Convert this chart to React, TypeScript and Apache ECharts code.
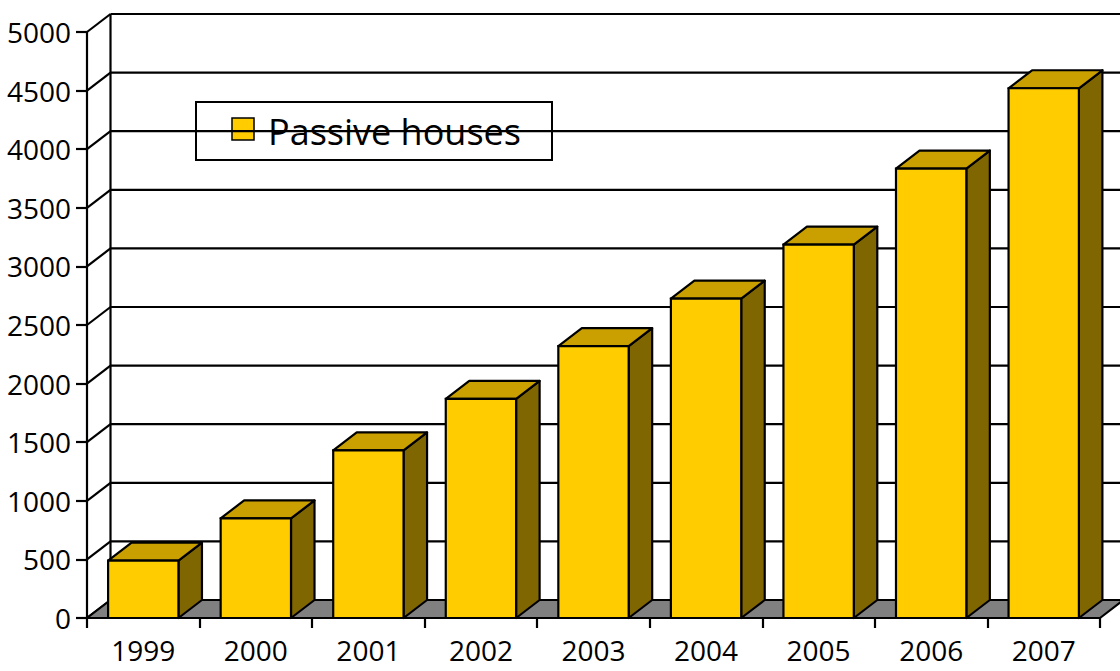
import React, { useEffect, useRef } from "react";
import * as echarts from "echarts";

const years = ["1999", "2000", "2001", "2002", "2003", "2004", "2005", "2006", "2007"];
const passiveHouses = [490, 850, 1430, 1870, 2320, 2725, 3185, 3835, 4520];
const yTicks = [0, 500, 1000, 1500, 2000, 2500, 3000, 3500, 4000, 4500, 5000];
const seriesName = "Passive houses";

const DX = 23.5;
const DY = -18;
const FONT = "Open Sans";
const FRONT = "#FFCC00";
const TOP = "#C9A000";
const SIDE = "#806600";
const FLOOR = "#808080";

export default function App() {
  const ref = useRef<HTMLDivElement>(null);

  useEffect(() => {
    document.body.style.margin = "0";
    const chart = echarts.init(ref.current!, null, { renderer: "svg" });

    const stroke = { stroke: "#000", lineWidth: 2.2 };

    chart.setOption({
      animation: false,
      backgroundColor: "#fff",
      grid: { left: 87, right: 20, top: 32, bottom: 53, containLabel: false, outerBoundsMode: "none" },
      xAxis: {
        type: "category",
        data: years,
        boundaryGap: true,
        axisLine: { show: true, lineStyle: { color: "#000", width: 2.2 } },
        axisTick: { show: true, alignWithLabel: false, length: 10, lineStyle: { color: "#000", width: 2.2 } },
        axisLabel: { color: "#000", fontSize: 28, lineHeight: 28, fontFamily: FONT, margin: 18 },
        splitLine: { show: false },
      },
      yAxis: {
        type: "value",
        min: 0,
        max: 5000,
        interval: 500,
        axisLine: { show: true, lineStyle: { color: "#000", width: 2.2 } },
        axisTick: { show: true, length: 11, lineStyle: { color: "#000", width: 2.2 } },
        axisLabel: {
          color: "#000",
          fontSize: 28,
          fontFamily: FONT,
          margin: 16,
          formatter: (v: number) => String(v),
        },
        splitLine: { show: false },
      },
      series: [
        {
          type: "custom",
          name: "grid",
          clip: false,
          silent: true,
          data: yTicks.map((v) => [0, v]),
          renderItem: (params: any, api: any) => {
            const cs = params.coordSys;
            const y = api.coord([0, api.value(1)])[1];
            const x0 = cs.x;
            const x1 = cs.x + cs.width;
            return {
              type: "group",
              children: [
                { type: "line", shape: { x1: x0, y1: y, x2: x0 + DX, y2: y + DY }, style: { ...stroke } },
                { type: "line", shape: { x1: x0 + DX, y1: y + DY, x2: x1 + DX, y2: y + DY }, style: { ...stroke } },
              ],
            };
          },
        },
        {
          type: "custom",
          name: "walls",
          clip: false,
          silent: true,
          data: [[0, 0]],
          renderItem: (params: any, api: any) => {
            const cs = params.coordSys;
            const yb = api.coord([0, 0])[1];
            const yt = api.coord([0, 5000])[1];
            const x0 = cs.x;
            const x1 = cs.x + cs.width;
            return {
              type: "group",
              children: [
                {
                  type: "polygon",
                  shape: { points: [[x0, yb], [x1, yb], [x1 + DX, yb + DY], [x0 + DX, yb + DY]] },
                  style: { fill: FLOOR, ...stroke },
                },
                { type: "line", shape: { x1: x0 + DX, y1: yt + DY, x2: x0 + DX, y2: yb + DY }, style: { ...stroke } },
              ],
            };
          },
        },
        {
          type: "custom",
          name: seriesName,
          clip: false,
          itemStyle: { color: FRONT },
          data: passiveHouses.map((v, i) => [i, v]),
          renderItem: (params: any, api: any) => {
            const idx = api.value(0);
            const val = api.value(1);
            const base = api.coord([idx, 0]);
            const top = api.coord([idx, val]);
            const band = api.size([1, 0])[0];
            const w = band * 0.625;
            const xl = base[0] - w / 2;
            const xr = base[0] + w / 2;
            const yt = top[1];
            const yb = base[1];
            return {
              type: "group",
              children: [
                {
                  type: "polygon",
                  shape: { points: [[xr, yt], [xr + DX, yt + DY], [xr + DX, yb + DY], [xr, yb]] },
                  style: { fill: SIDE, ...stroke, lineJoin: "round" },
                },
                {
                  type: "polygon",
                  shape: { points: [[xl, yt], [xr, yt], [xr + DX, yt + DY], [xl + DX, yt + DY]] },
                  style: { fill: TOP, ...stroke, lineJoin: "round" },
                },
                {
                  type: "rect",
                  shape: { x: xl, y: yt, width: w, height: yb - yt },
                  style: { fill: FRONT, ...stroke },
                },
              ],
            };
          },
        },
      ],
      graphic: [
        {
          type: "group",
          left: 195,
          top: 101,
          children: [
            { type: "rect", shape: { x: 0, y: 0, width: 356, height: 58 }, style: { fill: "#fff", stroke: "#000", lineWidth: 2 } },
            { type: "rect", shape: { x: 36, y: 16, width: 22, height: 22 }, style: { fill: FRONT, stroke: "#000", lineWidth: 1.5 } },
            {
              type: "text",
              x: 72,
              y: 29,
              style: { text: seriesName, fontSize: 36, fontFamily: FONT, fill: "#000", verticalAlign: "middle", align: "left" },
            },
          ],
        },
      ],
    });

    return () => chart.dispose();
  }, []);

  return <div ref={ref} style={{ width: 1120, height: 671 }} />;
}
